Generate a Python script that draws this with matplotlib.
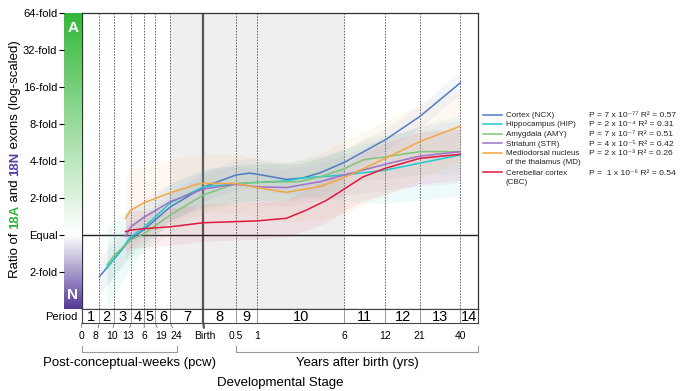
import matplotlib
matplotlib.use('Agg')
import numpy as np
import matplotlib.pyplot as plt
import matplotlib.transforms as mtransforms
from matplotlib.lines import Line2D

plt.rcParams['font.family'] = ['Liberation Sans', 'DejaVu Sans']

# ages are written as "<n>pcw" (post-conceptual weeks) or "<n>y" (years after birth)
NCX_AGE = ['8pcw', '10pcw', '13pcw', '16pcw', '24pcw', '40pcw', '0.5y', '0.8y', '1y', '2y',
           '2.8y', '3.9y', '6y', '12y', '21y', '40y']
NCX_VAL = [-1.12, -0.65, -0.10, 0.16, 0.77, 1.30, 1.63, 1.68, 1.65, 1.51, 1.55, 1.69, 1.97,
           2.58, 3.21, 4.12]
NCX_SPREAD = [0.5, 0.45, 0.4, 0.4, 0.4, 0.4, 0.4, 0.4, 0.4, 0.4, 0.4, 0.4, 0.35, 0.3, 0.3, 0.3]

HIP_AGE = ['9pcw', '10pcw', '13pcw', '16pcw', '24pcw', '40pcw', '0.5y', '1y', '2y', '2.8y',
           '4.6y', '6y', '12y', '21y', '40y']
HIP_VAL = [-0.89, -0.64, -0.04, 0.22, 0.88, 1.31, 1.39, 1.43, 1.47, 1.55, 1.60, 1.63, 1.76,
           1.95, 2.17]
HIP_SPREAD = [1.1, 1.0, 0.8, 0.6, 0.5, 0.5, 0.5, 0.5, 0.5, 0.5, 0.6, 0.7, 0.9, 1.0, 1.1]

AMY_AGE = ['9pcw', '10pcw', '13pcw', '16pcw', '24pcw', '40pcw', '0.5y', '1y', '2.6y', '3.9y',
           '6y', '8.3y', '12y', '21y', '40y']
AMY_VAL = [-0.80, -0.55, -0.13, 0.05, 0.55, 1.09, 1.40, 1.43, 1.45, 1.58, 1.80, 2.04, 2.12,
           2.26, 2.26]
AMY_SPREAD = [0.6, 0.55, 0.5, 0.5, 0.5, 0.5, 0.5, 0.5, 0.5, 0.5, 0.5, 0.55, 0.6, 0.6, 0.6]

STR_AGE = ['12pcw', '13pcw', '16pcw', '24pcw', '40pcw', '0.5y', '1y', '2y', '3.9y', '6y',
           '12y', '21y', '40y']
STR_VAL = [-0.02, 0.23, 0.49, 0.91, 1.25, 1.38, 1.31, 1.29, 1.45, 1.63, 1.92, 2.14, 2.26]
STR_SPREAD = [0.6, 0.55, 0.5, 0.5, 0.5, 0.5, 0.5, 0.5, 0.5, 0.55, 0.7, 0.8, 0.85]

MD_AGE = ['12pcw', '13pcw', '16pcw', '24pcw', '37pcw', '40pcw', '0.5y', '1y', '2y', '4y',
          '6y', '12y', '21y', '40y']
MD_VAL = [0.46, 0.68, 0.88, 1.15, 1.39, 1.40, 1.40, 1.29, 1.16, 1.33, 1.56, 2.08, 2.53, 2.95]
MD_SPREAD = [1.15, 1.1, 1.0, 0.9, 0.8, 0.8, 0.8, 0.8, 0.8, 0.9, 1.0, 1.0, 1.0, 0.95]

CBC_AGE = ['12pcw', '13pcw', '16pcw', '24pcw', '40pcw', '0.5y', '1y', '2y', '3y', '4.4y',
           '6y', '8.3y', '12y', '21y', '40y']
CBC_VAL = [0.10, 0.14, 0.18, 0.23, 0.34, 0.37, 0.39, 0.46, 0.68, 0.95, 1.25, 1.58, 1.81,
           2.08, 2.19]
CBC_SPREAD = [0.5, 0.5, 0.5, 0.5, 0.5, 0.5, 0.5, 0.5, 0.55, 0.6, 0.6, 0.65, 0.7, 0.7, 0.7]

REGIONS = ['Cortex (NCX)', 'Hippocampus (HIP)', 'Amygdala (AMY)', 'Striatum (STR)',
           'Mediodorsal nucleus\nof the thalamus (MD)', 'Cerebellar cortex\n(CBC)']
P_MANT = ['7', '2', '7', '4', '2', ' 1']
P_EXP = [-77, -4, -7, -5, -3, -6]
R2 = [0.57, 0.31, 0.51, 0.42, 0.26, 0.54]
COLORS = ['#4f7cc0', '#20c9cc', '#80c57a', '#a070cc', '#f5a640', '#e0173f']

PERIOD_EDGES = ['8pcw', '10pcw', '13pcw', '16pcw', '19pcw', '24pcw', '40pcw', '0.5y', '1y',
                '6y', '12y', '21y', '40y']
TICK_TEXT = ['8', '10', '13', '6', '19', '24', 'Birth', '0.5', '1', '6', '12', '21', '40']
FOLD_TICKS = [-1, 0, 1, 2, 3, 4, 5, 6]
FOLD_TEXT = ['2-fold', 'Equal', '2-fold', '4-fold', '8-fold', '16-fold', '32-fold', '64-fold']

SUP = str.maketrans('-0123456789', '⁻⁰¹²³⁴⁵⁶⁷⁸⁹')


def to_days(a):
    # days after conception; birth taken as 40 pcw
    if a.endswith('pcw'):
        return 7.0 * float(a[:-3])
    return 280.0 + 365.0 * float(a[:-1])


W, H = 684, 391
def fx(px): return px / W
def fy(py): return 1 - py / H

XLIM = (42.6, 19650)
BIRTH = to_days('40pcw')

fig = plt.figure(figsize=(W / 100, H / 100), dpi=100, facecolor='white')
ax = fig.add_axes([fx(81.7), fy(309.3), (478.3 - 81.7) / W, (309.3 - 13.3) / H])
ax.set_xscale('log')
ax.set_xlim(*XLIM)
ax.set_ylim(-2, 6)
ax.set_xticks([])
ax.set_yticks([])
ax.minorticks_off()
for s in ax.spines.values():
    s.set_color('#333333')
    s.set_linewidth(0.9)

ax.axvspan(to_days('24pcw'), to_days('6y'), color='#efefef', lw=0, zorder=0)
for e in PERIOD_EDGES:
    if e == '40pcw':
        ax.axvline(to_days(e), color='#555555', lw=1.6, zorder=1)
    else:
        ax.axvline(to_days(e), color='#555555', lw=0.6, ls=(0, (2, 1.5)), zorder=1)
ax.axhline(0, color='#222222', lw=1.0, zorder=2)

series = [(NCX_AGE, NCX_VAL, NCX_SPREAD), (HIP_AGE, HIP_VAL, HIP_SPREAD),
          (AMY_AGE, AMY_VAL, AMY_SPREAD), (STR_AGE, STR_VAL, STR_SPREAD),
          (MD_AGE, MD_VAL, MD_SPREAD), (CBC_AGE, CBC_VAL, CBC_SPREAD)]
for (ages, vals, spread), c in zip(series, COLORS):
    d = np.array([to_days(a) for a in ages])
    v = np.array(vals)
    s = np.array(spread)
    ax.fill_between(d, v - s, v + s, color=c, alpha=0.07, lw=0, zorder=2)
for (ages, vals, spread), c in zip(series, COLORS):
    d = np.array([to_days(a) for a in ages])
    ax.plot(d, vals, color=c, lw=1.1, zorder=3)

# A / N colour bar with the fold tick labels
bax = fig.add_axes([fx(64.3), fy(309.3), (81.7 - 64.3) / W, (309.3 - 13.3) / H])
yy = np.linspace(-2, 6, 400)
green = np.array([0.20, 0.72, 0.22])
purple = np.array([0.33, 0.22, 0.60])
grad = np.ones((400, 1, 3))
for i, y in enumerate(yy):
    if y >= 0:
        t = y / 6
        grad[i, 0] = (1 - t) * np.ones(3) + t * green
    else:
        t = -y / 2
        grad[i, 0] = (1 - t) * np.ones(3) + t * purple
bax.imshow(grad, extent=[0, 1, -2, 6], aspect='auto', origin='lower')
bax.set_xlim(0, 1)
bax.set_ylim(-2, 6)
bax.set_xticks([])
bax.set_yticks(FOLD_TICKS)
bax.set_yticklabels(FOLD_TEXT, fontsize=8)
bax.tick_params(axis='y', length=3.5, width=0.8, pad=1.5)
for s in bax.spines.values():
    s.set_visible(False)
bax.text(0.5, 5.6, 'A', color='white', fontsize=11, fontweight='bold', ha='center', va='center')
bax.text(0.5, -1.62, 'N', color='white', fontsize=11, fontweight='bold', ha='center', va='center')

# period strip
pax = fig.add_axes([fx(81.7), fy(323.3), (478.3 - 81.7) / W, 14 / H])
pax.set_xscale('log')
pax.set_xlim(*XLIM)
pax.set_ylim(0, 1)
pax.set_xticks([])
pax.set_yticks([])
pax.minorticks_off()
for s in pax.spines.values():
    s.set_color('#444444')
    s.set_linewidth(0.8)
edges = [XLIM[0]] + [to_days(e) for e in PERIOD_EDGES] + [XLIM[1]]
for e in PERIOD_EDGES:
    if e == '40pcw':
        pax.axvline(to_days(e), color='#555555', lw=1.6)
    else:
        pax.axvline(to_days(e), color='#888888', lw=0.6)
for i in range(len(edges) - 1):
    mid = np.sqrt(edges[i] * edges[i + 1])
    pax.text(mid, 0.45, str(i + 1), fontsize=10.5, ha='center', va='center')
fig.text(fx(78), fy(316.5), 'Period', fontsize=8, ha='right', va='center')

# age labels under the strip; prenatal ones are linked to their edge
blend = mtransforms.blended_transform_factory(pax.transData, pax.transAxes)
nudge = [-4.3, -2, -3, 0, 5.7, 6, 1.3, 0, 0, 0, 0, 0, 0]
pax.annotate('0', xy=(XLIM[0], 0), xycoords=blend, xytext=(0, -9.3),
             textcoords='offset points', ha='center', va='center', fontsize=7.5,
             arrowprops=dict(arrowstyle='-', color='#555555', lw=0.5, shrinkA=0.5, shrinkB=0),
             annotation_clip=False)
for e, txt, dx in zip(PERIOD_EDGES, TICK_TEXT, nudge):
    d = to_days(e)
    if d < BIRTH:
        arrow = dict(arrowstyle='-', color='#555555', lw=0.5, shrinkA=0.5, shrinkB=0)
    elif d == BIRTH:
        arrow = dict(arrowstyle='-', color='#555555', lw=1.6, shrinkA=0.5, shrinkB=0)
    else:
        arrow = None
    pax.annotate(txt, xy=(d, 0), xycoords=blend, xytext=(dx * 0.72, -9.3),
                 textcoords='offset points', ha='center', va='center', fontsize=7.5,
                 arrowprops=arrow, annotation_clip=False)

# brackets and axis captions
for x0, x1 in [(81.7, 176.7), (236, 478.3)]:
    fig.add_artist(Line2D([fx(x0), fx(x0), fx(x1), fx(x1)],
                          [fy(346), fy(351.7), fy(351.7), fy(346)],
                          transform=fig.transFigure, color='#999999', lw=0.8))
fig.text(fx(129.7), fy(363.3), 'Post-conceptual-weeks (pcw)', fontsize=9.5, ha='center', va='center')
fig.text(fx(357), fy(363.3), 'Years after birth (yrs)', fontsize=9.5, ha='center', va='center')
fig.text(fx(280.3), fy(382.7), 'Developmental Stage', fontsize=9.5, ha='center', va='center')

# y label pieced together so 18A / 18N carry their own colours
renderer = fig.canvas.get_renderer()
pieces = [('Ratio of ', 'black', 'normal'), ('18A', '#33b040', 'bold'), (' and ', 'black', 'normal'),
          ('18N', '#5b3fa0', 'bold'), (' exons (log-scaled)', 'black', 'normal')]
ypos = 278.5
for txt, col, wt in pieces:
    t = fig.text(fx(15), fy(ypos), txt, rotation=90, fontsize=9.5, color=col,
                 fontweight=wt, ha='center', va='bottom')
    bb = t.get_window_extent(renderer=renderer)
    ypos -= bb.height

# legend: one text per line so wrapped names stay under their own entry
leg_y = [115, 124, 133.7, 143.3, 152.7, 172.3]
for name, c, pm, pe, r2, y in zip(REGIONS, COLORS, P_MANT, P_EXP, R2, leg_y):
    fig.add_artist(Line2D([fx(483.3), fx(501.7)], [fy(y), fy(y)],
                          transform=fig.transFigure, color=c, lw=1.1))
    for k, line in enumerate(name.split('\n')):
        fig.text(fx(505.7), fy(y + 2.2 + 9.6 * k), line, fontsize=5.8, ha='left',
                 va='baseline', color='#222222')
    stat = 'P = %s x 10%s R² = %.2f' % (pm, str(pe).translate(SUP), r2)
    fig.text(fx(589), fy(y + 2.2), stat, fontsize=6.1, ha='left', va='baseline',
             color='#222222')

fig.savefig('out.png', dpi=100, facecolor='white')
